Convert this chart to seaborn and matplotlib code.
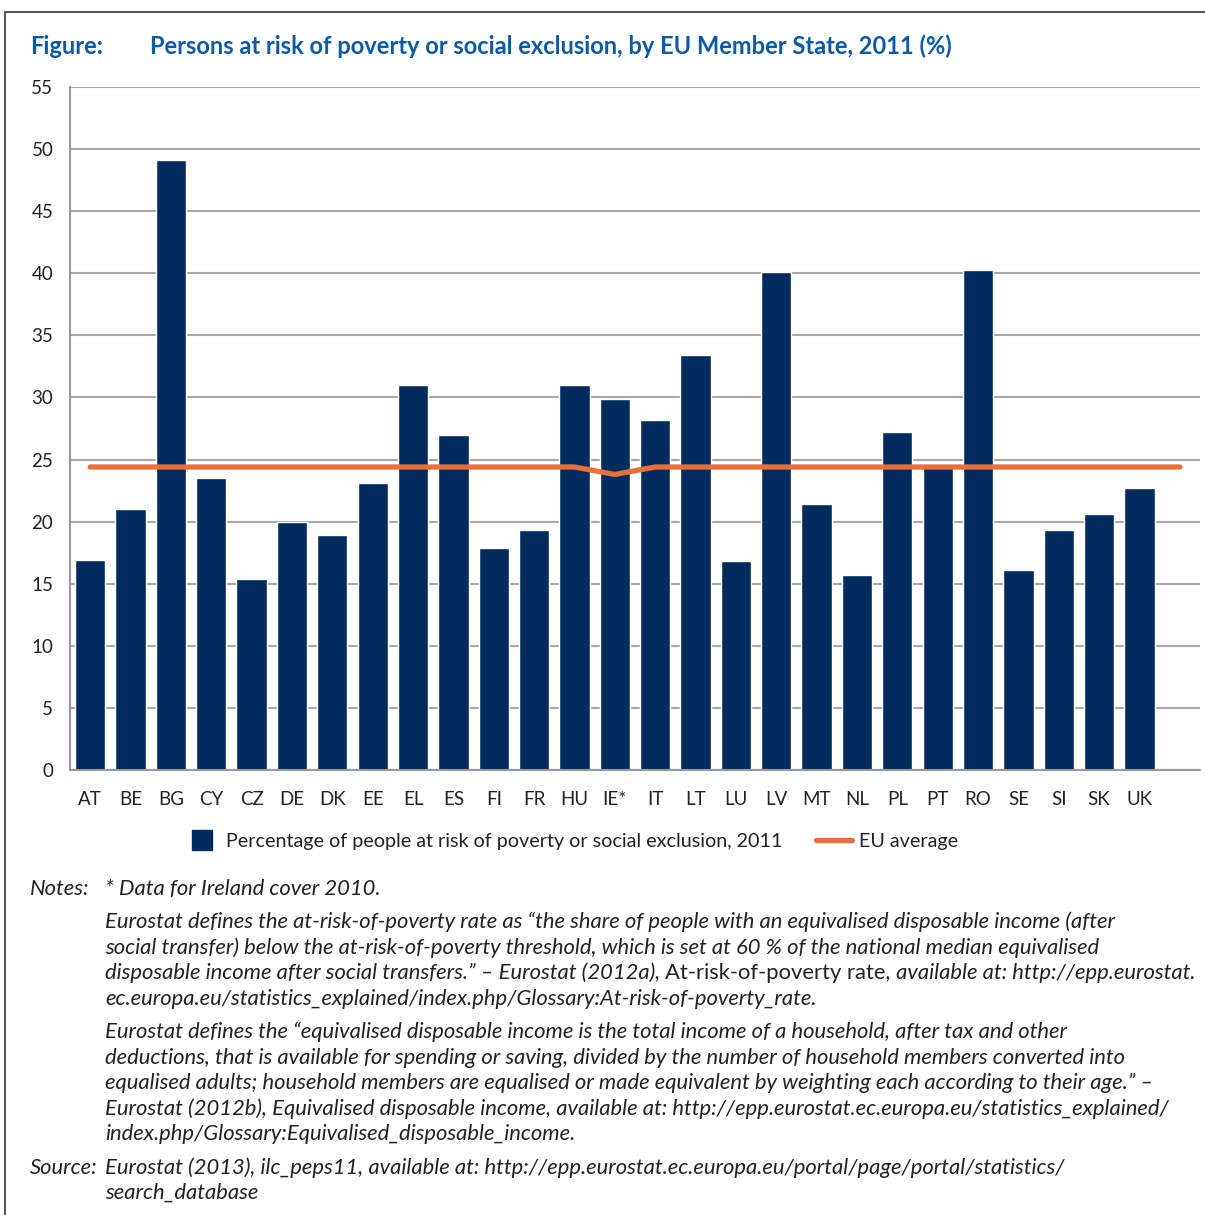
import numpy as np
import pandas as pd
import matplotlib
matplotlib.use('Agg')
import matplotlib.pyplot as plt
from matplotlib.lines import Line2D
import seaborn as sns

countries = ['AT', 'BE', 'BG', 'CY', 'CZ', 'DE', 'DK', 'EE', 'EL', 'ES', 'FI', 'FR', 'HU', 'IE*',
             'IT', 'LT', 'LU', 'LV', 'MT', 'NL', 'PL', 'PT', 'RO', 'SE', 'SI', 'SK', 'UK']
risk = [16.9, 21.0, 49.1, 23.5, 15.4, 20.0, 18.9, 23.1, 31.0, 27.0, 17.9, 19.3, 31.0, 29.9,
        28.2, 33.4, 16.8, 40.1, 21.4, 15.7, 27.2, 24.4, 40.3, 16.1, 19.3, 20.6, 22.7]
# EU average drawn at every slot, plus one empty slot after UK
eu_avg = [24.4] * 13 + [23.8] + [24.4] * 14
slots = countries + ['']

navy = '#022B5E'
orange = '#E9703A'
blue = '#0B5AA6'
grid_col = '#A8A8A8'
txt = '#222222'

sns.set_style('white')
plt.rcParams['font.family'] = ['Lato', 'DejaVu Sans']

W, H = 1205, 1215
fig = plt.figure(figsize=(W / 100, H / 100), dpi=100)
ax = fig.add_axes([70 / W, 1 - 770 / H, 1130 / W, 683 / H])

df = pd.DataFrame({'country': countries, 'value': risk})
sns.barplot(data=df, x='country', y='value', order=slots, color=navy, saturation=1,
            width=0.75, ax=ax, zorder=2)
sns.lineplot(x=np.arange(len(eu_avg)), y=eu_avg, color=orange, lw=3.8, ax=ax, zorder=3,
             solid_capstyle='round', solid_joinstyle='round')

ax.set_xlim(-0.5, len(slots) - 0.5)
ax.set_ylim(0, 55)
ax.set_yticks(np.arange(0, 56, 5))
ax.yaxis.grid(True, color=grid_col, lw=1.5, zorder=0)
ax.set_axisbelow(True)
ax.set_xlabel('')
ax.set_ylabel('')
ax.set_xticks(np.arange(len(slots)))
ax.set_xticklabels(slots)
ax.set_xticks(np.arange(len(slots) + 1) - 0.5, minor=True)
ax.tick_params(axis='x', which='major', length=0, pad=15, labelsize=13.5, labelcolor=txt)
ax.tick_params(axis='x', which='minor', length=5, width=1.2, color='#999999', direction='out')
ax.tick_params(axis='y', length=6, width=1.2, color='#999999', direction='out', pad=6,
               labelsize=13.5, labelcolor=txt)
sns.despine(ax=ax, top=True, right=True)
for s in ['left', 'bottom']:
    ax.spines[s].set_color('#999999')
    ax.spines[s].set_linewidth(1.5)

# legend
handles = [Line2D([], [], marker='s', markersize=14.5, linestyle='none', color=navy),
           Line2D([], [], color=orange, lw=3.8, solid_capstyle='round')]
labels = ['Percentage of people at risk of poverty or social exclusion, 2011', 'EU average']
fig.legend(handles, labels, loc='center', bbox_to_anchor=(571 / W, 1 - 841 / H), ncol=2,
           frameon=False, fontsize=14.2, handlelength=1.8, handletextpad=0.35, columnspacing=1.7,
           labelcolor=txt)

# title
fig.text(30 / W, 1 - 54 / H, 'Figure:', color=blue, fontsize=17, fontweight='bold', va='baseline')
fig.text(150 / W, 1 - 54 / H,
         'Persons at risk of poverty or social exclusion, by EU Member State, 2011 (%)',
         color=blue, fontsize=17, fontweight='bold', va='baseline')

# frame lines
fig.add_artist(Line2D([5 / W, 1], [1 - 12 / H, 1 - 12 / H], transform=fig.transFigure,
                      color='#555555', lw=1.5))
fig.add_artist(Line2D([5 / W, 5 / W], [1 - 12 / H, 0], transform=fig.transFigure,
                      color='#555555', lw=1.5))

# notes
renderer = fig.canvas.get_renderer()
note_fs = 15.8


def line(x_px, y_px, pieces):
    x = x_px
    for s, style in pieces:
        t = fig.text(x / W, 1 - y_px / H, s, fontsize=note_fs, style=style, color=txt,
                     va='baseline')
        x = t.get_window_extent(renderer).x1


rows = [
    (30, 895, [('Notes:', 'italic')]),
    (105, 895, [('* Data for Ireland cover 2010.', 'italic')]),
    (105, 928, [('Eurostat defines the at-risk-of-poverty rate as \u201cthe share of people with an equivalised disposable income (after', 'italic')]),
    (105, 954, [('social transfer) below the at-risk-of-poverty threshold, which is set at 60 % of the national median equivalised', 'italic')]),
    (105, 979, [('disposable income after social transfers.\u201d \u2013 Eurostat (2012a), ', 'italic'),
                ('At-risk-of-poverty rate', 'normal'),
                (', available at: http://epp.eurostat.', 'italic')]),
    (105, 1005, [('ec.europa.eu/statistics_explained/index.php/Glossary:At-risk-of-poverty_rate.', 'italic')]),
    (105, 1038, [('Eurostat defines the \u201cequivalised disposable income is the total income of a household, after tax and other', 'italic')]),
    (105, 1064, [('deductions, that is available for spending or saving, divided by the number of household members converted into', 'italic')]),
    (105, 1089, [('equalised adults; household members are equalised or made equivalent by weighting each according to their age.\u201d \u2013', 'italic')]),
    (105, 1115, [('Eurostat (2012b), Equivalised disposable income, available at: http://epp.eurostat.ec.europa.eu/statistics_explained/', 'italic')]),
    (105, 1140, [('index.php/Glossary:Equivalised_disposable_income.', 'italic')]),
    (30, 1174, [('Source:', 'italic')]),
    (105, 1174, [('Eurostat (2013), ilc_peps11, available at: http://epp.eurostat.ec.europa.eu/portal/page/portal/statistics/', 'italic')]),
    (105, 1199, [('search_database', 'italic')]),
]
for x, y, p in rows:
    line(x, y, p)

fig.savefig('out.png', dpi=100)
